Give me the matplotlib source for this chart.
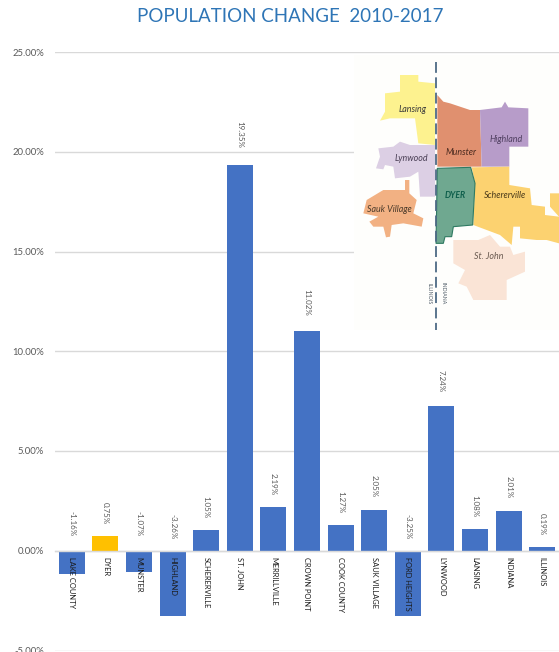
#!/usr/bin/env python3
import matplotlib
matplotlib.use("Agg")
import matplotlib.pyplot as plt
from matplotlib.patches import Polygon
from matplotlib.ticker import FuncFormatter

W, H = 559, 652

categories = ["LAKE COUNTY", "DYER", "MUNSTER", "HIGHLAND", "SCHERERVILLE", "ST. JOHN",
              "MERRILLVILLE", "CROWN POINT", "COOK COUNTY", "SAUK VILLAGE", "FORD HEIGHTS",
              "LYNWOOD", "LANSING", "INDIANA", "ILLINOIS"]
values = [-1.16, 0.75, -1.07, -3.26, 1.05, 19.35, 2.19, 11.02, 1.27, 2.05, -3.25, 7.24, 1.08, 2.01, 0.19]
highlight = "DYER"
yticks = [-5, 0, 5, 10, 15, 20, 25]

lansing = [(150, 75), (205, 75), (205, 95), (255, 100), (255, 285), (205, 280), (195, 205), (120, 205),
           (90, 212), (105, 185), (105, 130), (150, 125)]
lynwood = [(150, 275), (180, 285), (255, 285), (255, 440), (210, 440), (205, 365), (180, 380), (135, 385),
           (130, 350), (105, 345), (100, 358), (78, 355), (90, 320), (85, 295), (130, 290)]
sauk = [(165, 390), (178, 390), (178, 430), (200, 450), (190, 490), (220, 505), (215, 530), (160, 520),
        (125, 525), (120, 560), (108, 562), (100, 530), (70, 530), (58, 515), (85, 500), (40, 490), (50, 450),
        (100, 420), (165, 420)]
munster = [(262, 135), (280, 155), (300, 160), (360, 180), (390, 180), (395, 350), (262, 350)]
highland = [(390, 180), (455, 172), (465, 155), (475, 172), (535, 175), (535, 290), (478, 290), (478, 350), (395, 350)]
dyer = [(262, 355), (362, 352), (375, 400), (368, 525), (310, 530), (305, 560), (285, 560), (280, 580), (258, 580)]
schererville = [(365, 352), (478, 350), (478, 405), (540, 415), (545, 465), (585, 470), (585, 495), (627, 500),
                (627, 580), (590, 570), (560, 570), (510, 565), (510, 530), (490, 530), (485, 585), (450, 555),
                (370, 525), (375, 400)]
schererville2 = [(600, 430), (627, 430), (627, 500), (600, 470)]
stjohn = [(310, 570), (385, 570), (420, 555), (450, 590), (480, 590), (490, 615), (525, 605), (525, 665),
          (470, 690), (470, 750), (370, 750), (350, 710), (325, 700), (345, 660), (310, 640)]

plt.rcParams["font.family"] = ["Lato", "DejaVu Sans"]

fig = plt.figure(figsize=(W / 100, H / 100), dpi=100)
ax = fig.add_axes([55 / W, (H - 650.5) / H, (W - 55) / W, 598.5 / H])

x = list(range(len(categories)))
colors = ["#FFC000" if c == highlight else "#4472C4" for c in categories]
ax.bar(x, values, width=0.77, color=colors, zorder=2)

ax.set_xlim(-0.5, len(categories) - 0.5)
ax.set_ylim(-5, 25)
ax.set_yticks(yticks)
ax.yaxis.set_major_formatter(FuncFormatter(lambda v, _: f"{v:.2f}%"))
ax.tick_params(axis="y", length=0, labelsize=6.8, labelcolor="#595959", pad=8)
ax.grid(axis="y", color="#d9d9d9", lw=1)
ax.set_axisbelow(True)

for s in ["top", "left", "right"]:
    ax.spines[s].set_visible(False)
ax.spines["bottom"].set_position(("data", 0))
ax.spines["bottom"].set_color("#d9d9d9")
ax.spines["bottom"].set_linewidth(1)
ax.spines["bottom"].set_zorder(3)
ax.set_xticks(x)
ax.set_xticklabels([])
ax.tick_params(axis="x", length=0)

# category names sit over the negative bars, so they are drawn as text on top
for i, c in zip(x, categories):
    ax.annotate(c, (i, 0), xytext=(0, -4.5), textcoords="offset points", rotation=270,
                ha="center", va="top", fontsize=5.4, color="#1a1a1a", zorder=5)

for i, v in zip(x, values):
    if v >= 0:
        ax.annotate(f"{v:.2f}%", (i, v), xytext=(0, 8.5 + v * 0.2), textcoords="offset points", rotation=270,
                    ha="center", va="bottom", fontsize=5.8, color="#595959")
    else:
        ax.annotate(f"{v:.2f}%", (i, 0), xytext=(0, 12 + v * 1.2), textcoords="offset points", rotation=270,
                    ha="center", va="bottom", fontsize=5.8, color="#595959")

fig.text(290 / W, 1 - 17 / H, "POPULATION CHANGE  2010-2017", ha="center", va="center",
         fontsize=13.5, color="#2E75B6")

# inset map
m = fig.add_axes([354 / W, (H - 330) / H, (W - 354) / W, 275 / H], zorder=4)
m.set_xlim(12, 627)
m.set_ylim(840, 15)
m.axis("off")
m.add_patch(plt.Rectangle((12, 15), 615, 825, color="#fefefc", zorder=0))

regions = [(lansing, "#fdf28f"), (lynwood, "#dccfe4"), (sauk, "#f2b183"), (munster, "#e0906f"),
           (highland, "#b79cc9"), (schererville, "#fcd270"), (schererville2, "#fcd270"), (stjohn, "#fae4d6")]
for pts, c in regions:
    m.add_patch(Polygon(pts, closed=True, facecolor=c, edgecolor="none", zorder=1))
m.add_patch(Polygon(dyer, closed=True, facecolor="#6fa890", edgecolor="#2f7a62", lw=0.8, zorder=2))
m.plot([258, 258], [35, 840], color="#4d6a85", lw=1.3, ls=(0, (6, 2.5)), zorder=3)

names = [("Lansing", 189, 180, "#3a3a3a"), ("Lynwood", 185, 325, "#4a3f55"), ("Sauk Village", 118, 478, "#4a3a2a"),
         ("Munster", 334, 308, "#4a2a1f"), ("Highland", 470, 269, "#4f3f60"), ("Schererville", 466, 438, "#4a3a1a"),
         ("St. John", 415, 620, "#6a5a50")]
for name, nx, ny, c in names:
    m.text(nx, ny, name, style="italic", fontsize=6.4, color=c, ha="center", va="center", zorder=4)
m.text(316, 435, "DYER", style="italic", weight="bold", fontsize=6.2, color="#0f5f4c", ha="center", va="center", zorder=4)
m.text(238, 730, "ILLINOIS", rotation=270, fontsize=3.8, color="#4d5a66", ha="center", va="center", zorder=4)
m.text(278, 730, "INDIANA", rotation=270, fontsize=3.8, color="#4d5a66", ha="center", va="center", zorder=4)

fig.savefig("out.png", dpi=100)
